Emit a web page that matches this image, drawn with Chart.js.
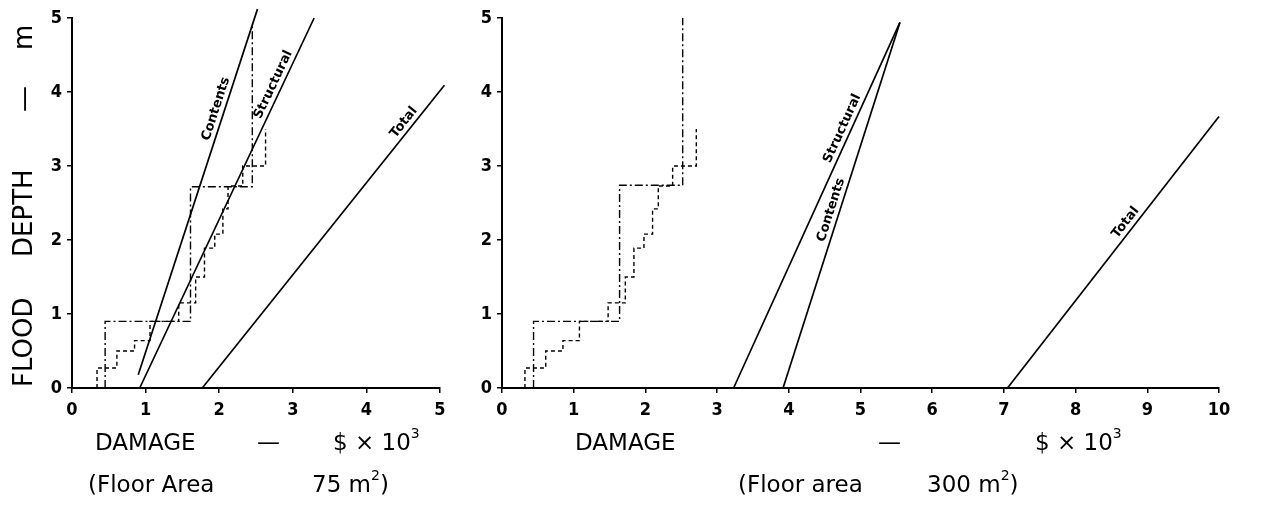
<!DOCTYPE html>
<html>
<head>
<meta charset="utf-8">
<title>Flood depth - damage curves</title>
<script src="https://cdn.jsdelivr.net/npm/chart.js@4.4.1/dist/chart.umd.min.js"></script>
<style>
  body { margin: 0; background: #fff; width: 1261px; height: 511px; position: relative; overflow: hidden;
         font-family: "DejaVu Sans", sans-serif; color: #000; }
  canvas { position: absolute; top: 0; }
  #small { left: 0; }
  #large { left: 470px; }
  .cap { position: absolute; font-size: 23px; line-height: 1; white-space: pre; }
  .cap sup { font-size: 14px; vertical-align: baseline; position: relative; top: -12px; }
  .ytitle { position: absolute; font-size: 26px; line-height: 1; white-space: pre;
            transform: rotate(-90deg); transform-origin: 0 0; }
</style>
</head>
<body>
<canvas id="small" width="470" height="511"></canvas>
<canvas id="large" width="791" height="511"></canvas>

<span class="ytitle" style="left:10px; top:387px">FLOOD</span>
<span class="ytitle" style="left:10px; top:257px">DEPTH</span>
<span class="ytitle" style="left:10px; top:112px">—</span>
<span class="ytitle" style="left:10px; top:50px">m</span>

<span class="cap" style="left:95px; top:431px">DAMAGE</span>
<span class="cap" style="left:257px; top:431px">—</span>
<span class="cap" style="left:333px; top:431px">$ × 10<sup>3</sup></span>
<span class="cap" style="left:88px; top:473px">(Floor Area</span>
<span class="cap" style="left:312px; top:473px">75 m<sup>2</sup>)</span>

<span class="cap" style="left:575px; top:431px">DAMAGE</span>
<span class="cap" style="left:878px; top:431px">—</span>
<span class="cap" style="left:1035px; top:431px">$ × 10<sup>3</sup></span>
<span class="cap" style="left:738px; top:473px">(Floor area</span>
<span class="cap" style="left:927px; top:473px">300 m<sup>2</sup>)</span>

<script>
// depth levels of the surveyed staircase curves (m)
const stepDepth = [0, 0.27, 0.50, 0.64, 0.90, 1.15, 1.50, 1.89, 2.08, 2.42, 2.73, 3.00, 3.50];

// 75 m2 house ($ x 1000)
const smallStepDamage = [0.34, 0.61, 0.85, 1.06, 1.45, 1.68, 1.80, 1.94, 2.05, 2.12, 2.32, 2.63, 2.63];
const smallAltDamage = [0.45, 1.61, 2.45, 2.45];
const smallAltDepth = [0, 0.90, 2.72, 4.93];
const smallContentsDamage = [0.90, 2.52];
const smallContentsDepth = [0.18, 5.12];
const smallStructDamage = [0.92, 3.29];
const smallStructDepth = [0, 5.0];
const smallTotalDamage = [1.77, 5.06];
const smallTotalDepth = [0, 4.09];

// 300 m2 house ($ x 1000)
const largeStepDamage = [0.32, 0.61, 0.85, 1.08, 1.48, 1.72, 1.84, 1.98, 2.10, 2.18, 2.38, 2.71, 2.71];
const largeAltDamage = [0.44, 1.64, 2.52, 2.52];
const largeAltDepth = [0, 0.90, 2.74, 5.0];
const largeStructDamage = [3.23, 5.55];
const largeStructDepth = [0, 4.94];
const largeContentsDamage = [3.92, 5.55];
const largeContentsDepth = [0, 4.94];
const largeTotalDamage = [7.05, 10.0];
const largeTotalDepth = [0, 3.67];

const depthMax = 5;
const smallDamageMax = 5;
const largeDamageMax = 10;

const pairs = (xs, ys) => xs.map((x, i) => ({ x, y: ys[i] }));

// writes a dataset's name along its straight line, tilted to match it
const lineTags = {
  id: "lineTags",
  afterDatasetsDraw(chart) {
    const ctx = chart.ctx;
    chart.data.datasets.forEach((ds, i) => {
      if (!ds.tag) return;
      const pts = chart.getDatasetMeta(i).data;
      const a = pts[0];
      const b = pts[pts.length - 1];
      const ang = Math.atan2(b.y - a.y, b.x - a.x);
      ctx.save();
      ctx.translate(a.x + (b.x - a.x) * ds.tagAt, a.y + (b.y - a.y) * ds.tagAt);
      ctx.rotate(ang);
      ctx.font = 'bold 13px "DejaVu Sans"';
      ctx.fillStyle = "#000";
      ctx.textAlign = "center";
      ctx.textBaseline = "bottom";
      ctx.fillText(ds.tag, 0, -2);
      ctx.restore();
    });
  },
};

const solid = (data, tag, tagAt) => ({
  data, tag, tagAt,
  borderColor: "#000", borderWidth: 1.7, pointRadius: 0, clip: false,
});

const stairs = (data, dash) => ({
  data,
  stepped: "after",
  borderColor: "#000", borderWidth: 1.4, borderDash: dash, pointRadius: 0, clip: false,
});

const tickFont = { family: "DejaVu Sans Condensed", size: 18, weight: "bold" };

const axis = (max, extra) => ({
  type: "linear",
  min: 0,
  max,
  border: { display: true, color: "#000", width: 2 },
  grid: { display: true, drawOnChartArea: false, drawTicks: true, tickLength: 5, color: "#000", lineWidth: 1.5 },
  ...extra,
});

const makeChart = (canvas, datasets, damageMax, yWidth, padRight) =>
  new Chart(canvas, {
    type: "line",
    data: { datasets },
    options: {
      responsive: false,
      animation: false,
      events: [],
      layout: { padding: { left: 0, right: padRight, top: 18, bottom: 0 } },
      plugins: { legend: { display: false }, tooltip: { enabled: false } },
      scales: {
        x: axis(damageMax, {
          afterFit: (s) => { s.height = 123; },
          ticks: { stepSize: 1, color: "#000", padding: 7, maxRotation: 0, font: tickFont },
        }),
        y: axis(depthMax, {
          afterFit: (s) => { s.width = yWidth; },
          ticks: { stepSize: 1, color: "#000", padding: 5, font: tickFont },
        }),
      },
    },
    plugins: [lineTags],
  });

makeChart(document.getElementById("small"), [
  stairs(pairs(smallStepDamage, stepDepth), [4, 3]),
  stairs(pairs(smallAltDamage, smallAltDepth), [8, 3, 2, 3]),
  solid(pairs(smallContentsDamage, smallContentsDepth), "Contents", 0.72),
  solid(pairs(smallStructDamage, smallStructDepth), "Structural", 0.81),
  solid(pairs(smallTotalDamage, smallTotalDepth), "Total", 0.86),
], smallDamageMax, 72, 30);

makeChart(document.getElementById("large"), [
  stairs(pairs(largeStepDamage, stepDepth), [4, 3]),
  stairs(pairs(largeAltDamage, largeAltDepth), [8, 3, 2, 3]),
  solid(pairs(largeStructDamage, largeStructDepth), "Structural", 0.70),
  solid(pairs(largeContentsDamage, largeContentsDepth), "Contents", 0.48),
  solid(pairs(largeTotalDamage, largeTotalDepth), "Total", 0.59),
], largeDamageMax, 32, 42);
</script>
</body>
</html>
